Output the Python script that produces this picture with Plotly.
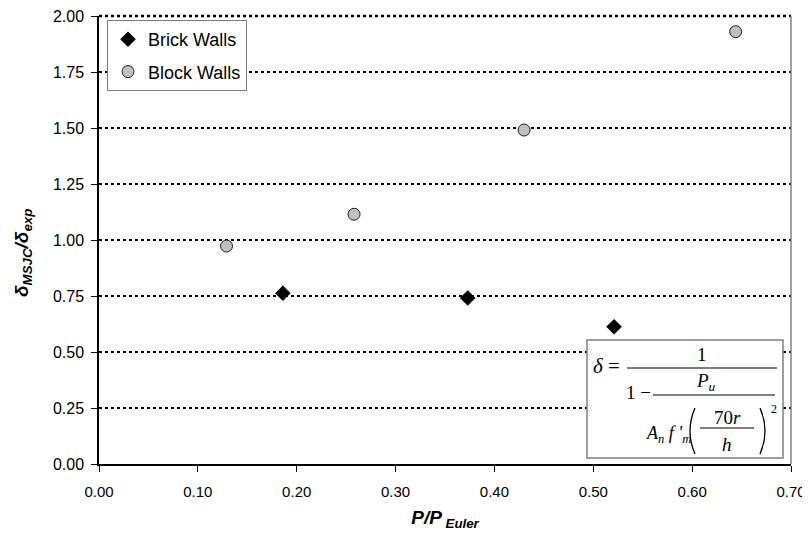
import plotly.graph_objects as go

# ---- data ----
brick_x = [0.186, 0.373, 0.521]
brick_y = [0.762, 0.741, 0.613]
block_x = [0.129, 0.258, 0.430, 0.644]
block_y = [0.973, 1.115, 1.491, 1.930]
x_ticks = [0.0, 0.1, 0.2, 0.3, 0.4, 0.5, 0.6, 0.7]
y_ticks = [0.0, 0.25, 0.5, 0.75, 1.0, 1.25, 1.5, 1.75, 2.0]

OFF = 8  # default page body margin
W, H = 810 - OFF, 544 - 2 * OFF
# target plot area in window pixels: x 99..791, y 16..464
ML, MR, MT, MB = 99 - OFF, 19, 16 - OFF, 72
PW, PH = 791 - 99, 464 - 16


def px(x):
    return (x - 99) / PW


def py(y):
    return (464 - y) / PH


fig = go.Figure()
fig.add_trace(go.Scatter(
    x=brick_x, y=brick_y, mode="markers", name="Brick Walls", legendgroup="a",
    marker=dict(symbol="diamond", size=12, color="black", line=dict(width=0)),
))
fig.add_trace(go.Scatter(
    x=block_x, y=block_y, mode="markers", name="Block Walls", legendgroup="b",
    marker=dict(symbol="circle", size=12, color="#c0c0c0", line=dict(width=1, color="#202020")),
))

shapes = []
# top dotted gridline (at the range edge)
shapes.append(dict(type="line", xref="paper", yref="paper", x0=0, x1=1, y0=1, y1=1,
                   layer="above", line=dict(color="black", width=2.5, dash="3px,3px")))
# right plot border
shapes.append(dict(type="line", xref="paper", yref="paper", x0=1, x1=1, y0=0, y1=1,
                   line=dict(color="#808080", width=1.5)))
# equation box
shapes.append(dict(type="rect", xref="paper", yref="paper", x0=px(587), x1=px(783), y0=py(458), y1=py(340),
                   line=dict(color="#808080", width=1.5), fillcolor="white"))
for (xa, xb, yy) in [(627, 777, 368), (653, 775, 395), (700, 754, 428)]:
    shapes.append(dict(type="line", xref="paper", yref="paper", x0=px(xa), x1=px(xb), y0=py(yy), y1=py(yy),
                       line=dict(color="black", width=1)))
# thin parentheses around 70r/h
for (xe, xc) in [(695, 685), (760, 770)]:
    shapes.append(dict(type="path", xref="paper", yref="paper",
                       path=f"M {px(xe)},{py(408)} Q {px(xc)},{py(431)} {px(xe)},{py(454)}",
                       line=dict(color="black", width=1.3)))

serif = "Liberation Serif, Times New Roman, serif"
ann_specs = [
    ("<i>δ</i> =", 606, 366, 21),
    ("1", 702, 354, 19),
    ("1 −", 638, 392, 19),
    ("<i>P<sub>u</sub></i>", 706, 382, 19),
    ("<i>A<sub>n</sub> f '<sub>m</sub></i>", 668, 434, 18),
    ("70<i>r</i>", 727, 417, 19),
    ("<i>h</i>", 727, 444, 19),
    ("2", 774, 409, 12),
]
annotations = []
for t, x, y, s in ann_specs:
    annotations.append(dict(text=t, x=px(x), y=py(y), xref="paper", yref="paper", showarrow=False,
                            xanchor="center", yanchor="middle", font=dict(family=serif, size=s, color="black")))
# y-axis title
annotations.append(dict(text="<b><i>δ<sub>MSJC</sub>/δ<sub>exp</sub></i></b>", x=px(23), y=py(253),
                        xref="paper", yref="paper", showarrow=False, textangle=-90,
                        xanchor="center", yanchor="middle",
                        font=dict(family="Liberation Sans, Arial, sans-serif", size=19, color="black")))

fig.update_layout(
    width=W, height=H, autosize=False,
    margin=dict(l=ML, r=MR, t=MT, b=MB, pad=0),
    paper_bgcolor="white", plot_bgcolor="white",
    font=dict(family="Liberation Sans, Arial, sans-serif", size=15, color="black"),
    shapes=shapes, annotations=annotations,
    showlegend=True,
    legend=dict(x=px(107), y=py(20), xanchor="left", yanchor="top",
                bgcolor="white", bordercolor="#808080", borderwidth=1,
                font=dict(size=18, color="black"), tracegroupgap=6, traceorder="grouped",
                itemwidth=30),
    xaxis=dict(range=[0, 0.7], tickvals=x_ticks, tickformat=".2f", showline=True, linecolor="black",
               linewidth=1.5, ticks="outside", ticklen=6, tickcolor="black", showgrid=False, zeroline=False,
               tickfont=dict(size=15),
               ticklabelstandoff=7, automargin=False, ticklabeloverflow="allow",
               title=dict(text="<b><i>P/P<sub> Euler</sub></i></b>", font=dict(size=19), standoff=12)),
    yaxis=dict(range=[0, 2], tickvals=y_ticks, tickformat=".2f", showline=True, linecolor="black",
               linewidth=1.5, ticks="outside", ticklen=6, tickcolor="black", showgrid=True,
               gridcolor="black", gridwidth=2, griddash="3px,3px", zeroline=False,
               tickfont=dict(size=16), ticklabelstandoff=4, automargin=False, ticklabeloverflow="allow"),
)

fig.write_html("out.html")
